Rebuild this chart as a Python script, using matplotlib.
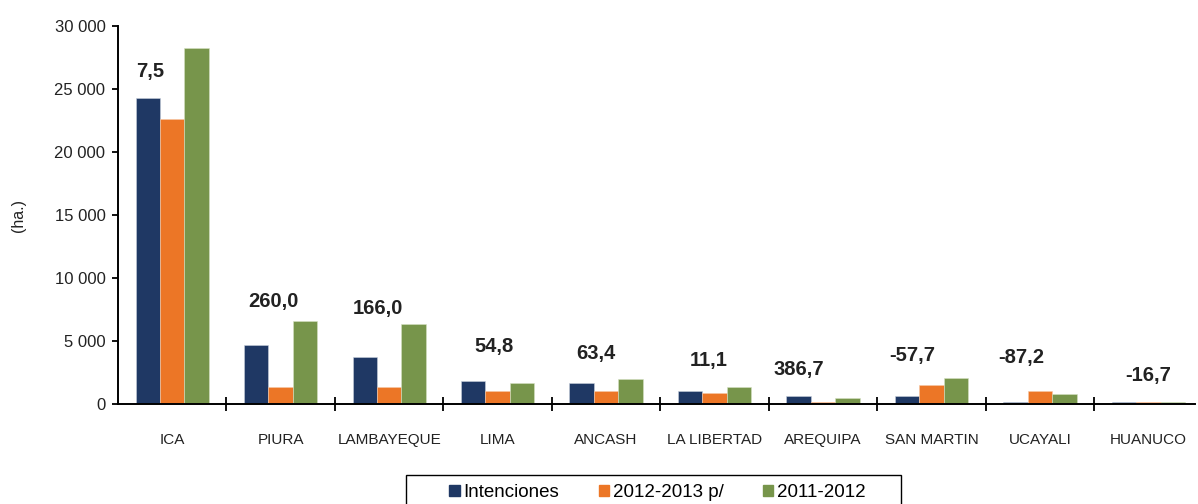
import numpy as np
import matplotlib.pyplot as plt
from matplotlib.patches import Patch, Rectangle
from matplotlib.ticker import FuncFormatter

plt.rcParams['font.family'] = ['Liberation Sans', 'DejaVu Sans']

regions = ["ICA", "PIURA", "LAMBAYEQUE", "LIMA", "ANCASH", "LA LIBERTAD",
           "AREQUIPA", "SAN MARTIN", "UCAYALI", "HUANUCO"]
intenciones = [24300, 4700, 3750, 1800, 1650, 1030, 610, 610, 180, 180]
campana_12_13 = [22600, 1350, 1350, 1030, 1030, 900, 180, 1500, 1030, 180]
campana_11_12 = [28250, 6620, 6320, 1640, 1960, 1360, 450, 2090, 780, 150]
variacion = ["7,5", "260,0", "166,0", "54,8", "63,4", "11,1",
             "386,7", "-57,7", "-87,2", "-16,7"]

# where the percentage labels sit (x offset from group centre, y in ha.)
lbl_dx = [-0.2, -0.07, -0.1, -0.03, -0.09, -0.05, -0.22, -0.18, -0.17, 0.0]
lbl_y = [26350, 8120, 7590, 4550, 3970, 3490, 2750, 3830, 3700, 2250]

c_blue = "#1f3864"
c_orange = "#ec7626"
c_green = "#77954b"

fig = plt.figure(figsize=(11.98, 5.04), dpi=100)
ax = fig.add_axes([118 / 1198, 1 - 404 / 504, (1195 - 118) / 1198, (404 - 26) / 504])

x = np.arange(len(regions))
w = 0.225
ax.bar(x - w, intenciones, w, color=c_blue, edgecolor="#c8d0dc", linewidth=0.4)
ax.bar(x, campana_12_13, w, color=c_orange, edgecolor="#f5c9a8", linewidth=0.4)
ax.bar(x + w, campana_11_12, w, color=c_green, edgecolor="#d6e2c4", linewidth=0.4)

for i, t in enumerate(variacion):
    ax.text(x[i] + lbl_dx[i], lbl_y[i], t, ha="center", va="center",
            fontsize=14.5, fontweight="bold", color="#222222")

ax.set_xlim(-0.5, 9.43)
ax.set_ylim(0, 30000)
ax.set_yticks(np.arange(0, 30001, 5000))
ax.yaxis.set_major_formatter(FuncFormatter(lambda v, p: f"{int(v):,}".replace(",", " ")))
ax.set_xticks(x)
ax.set_xticklabels(regions)
ax.set_xticks(x[1:] - 0.5, minor=True)
ax.tick_params(axis="x", which="major", length=0, pad=21, labelsize=11, colors="#222222")
ax.tick_params(axis="x", which="minor", direction="inout", length=10, width=1.3)
ax.tick_params(axis="y", direction="out", length=4, width=1.3, pad=5, labelsize=12, labelcolor="#222222")

for s in ["top", "right"]:
    ax.spines[s].set_visible(False)
for s in ["left", "bottom"]:
    ax.spines[s].set_linewidth(1.4)

ax.set_ylabel("(ha.)", fontsize=11.5, color="#222222")
ax.yaxis.set_label_coords(-0.085, 0.5)

# legend box, cut by the bottom of the picture as in the original
fig.patches.append(Rectangle((406 / 1198, -0.05), (901 - 406) / 1198, 1 - 475 / 504 + 0.05,
                             transform=fig.transFigure, fill=False, edgecolor="black",
                             linewidth=1.0, clip_on=False))
handles = [Patch(color=c_blue), Patch(color=c_orange), Patch(color=c_green)]
fig.legend(handles, ["Intenciones", "2012-2013 p/", "2011-2012"], ncol=3,
           loc="upper left", bbox_to_anchor=(440 / 1198, 1 - 475 / 504),
           fontsize=13.5, frameon=False,
           handlelength=0.55, handleheight=0.55, handletextpad=0.2,
           columnspacing=2.1, borderpad=0.5, borderaxespad=0)

fig.savefig("out.png", dpi=100)
